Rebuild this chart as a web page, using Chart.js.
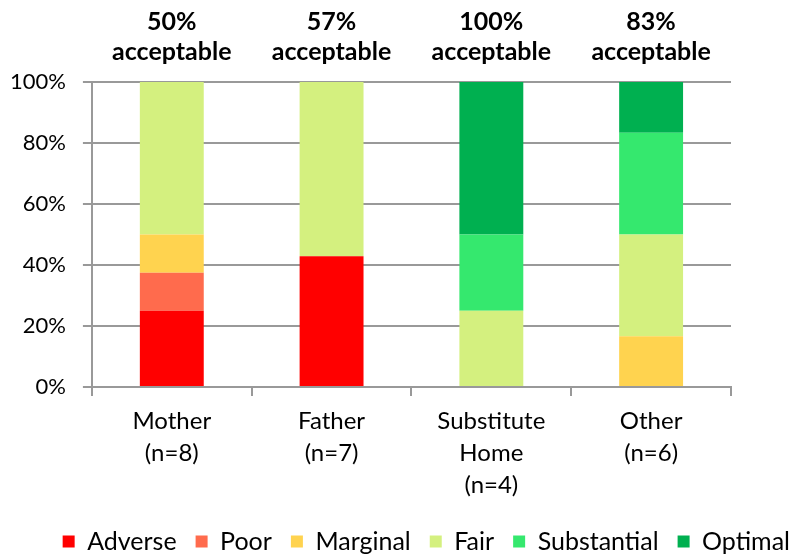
<!DOCTYPE html>
<html>
<head>
<meta charset="utf-8">
<script src="https://cdn.jsdelivr.net/npm/chart.js@4.4.1/dist/chart.umd.min.js"></script>
<style>
  html, body { margin: 0; padding: 0; background: #fff; }
  #wrap { width: 798px; height: 557px; }
</style>
</head>
<body>
<div id="wrap"><canvas id="chart"></canvas></div>
<script>
// categories and values (percent of each group)
const categories = [["Mother", "(n=8)"], ["Father", "(n=7)"], ["Substitute", "Home", "(n=4)"], ["Other", "(n=6)"]];
const acceptable = ["50%", "57%", "100%", "83%"];

const adverse     = [25, 42.86, 0, 0];
const poor        = [12.5, 0, 0, 0];
const marginal    = [12.5, 0, 0, 16.67];
const fair        = [50, 57.14, 25, 33.33];
const substantial = [0, 0, 25, 33.33];
const optimal     = [0, 0, 50, 16.67];

const fontFam = "Lato, 'Open Sans', sans-serif";

// draws the "xx% acceptable" labels above each bar
const topLabels = {
  id: 'topLabels',
  afterDraw(chart) {
    const ctx = chart.ctx;
    const x = chart.scales.x;
    ctx.save();
    ctx.fillStyle = '#000';
    ctx.font = "bold 25px " + fontFam;
    ctx.textAlign = 'center';
    ctx.textBaseline = 'middle';
    acceptable.forEach((t, i) => {
      const px = x.getPixelForValue(i);
      ctx.fillText(t, px, 22);
      ctx.fillText('acceptable', px, 52);
    });
    ctx.restore();
  }
};

const ds = (label, data, color) => ({
  label: label,
  data: data,
  backgroundColor: color,
  barPercentage: 0.4,
  categoryPercentage: 1.0
});

new Chart(document.getElementById('chart'), {
  type: 'bar',
  data: {
    labels: categories,
    datasets: [
      ds('Adverse', adverse, '#FF0000'),
      ds('Poor', poor, '#FF6B4D'),
      ds('Marginal', marginal, '#FFD34F'),
      ds('Fair', fair, '#D4F07F'),
      ds('Substantial', substantial, '#35E86E'),
      ds('Optimal', optimal, '#00B050')
    ]
  },
  options: {
    responsive: true,
    maintainAspectRatio: false,
    animation: false,
    layout: { padding: { top: 82, right: -11, left: -7, bottom: -7 } },
    plugins: {
      tooltip: { enabled: false },
      legend: {
        position: 'bottom',
        align: 'end',
        labels: {
          boxWidth: 12,
          boxHeight: 12,
          padding: 19,
          color: '#000',
          font: { family: fontFam, size: 25 }
        }
      }
    },
    scales: {
      x: {
        stacked: true,
        grid: { offset: true, drawOnChartArea: false, color: '#999', lineWidth: 2, tickLength: 9 },
        border: { color: '#999', width: 2 },
        ticks: { color: '#000', font: { family: fontFam, size: 24, lineHeight: 1.333 }, maxRotation: 0, padding: 9 }
      },
      y: {
        stacked: true,
        min: 0,
        max: 100,
        ticks: {
          stepSize: 20,
          color: '#000',
          font: { family: fontFam, size: 22 },
          padding: 17,
          callback: v => v + '%'
        },
        grid: { color: '#999', lineWidth: 2, tickLength: 9 },
        border: { color: '#999', width: 2 }
      },
      // empty spacer on the right so the plot stops short of the legend's right edge
      spacer: {
        type: 'linear',
        position: 'right',
        ticks: { display: false },
        grid: { display: false },
        border: { display: false },
        afterFit: s => { s.width = 78; }
      }
    }
  },
  plugins: [topLabels]
});
</script>
</body>
</html>
